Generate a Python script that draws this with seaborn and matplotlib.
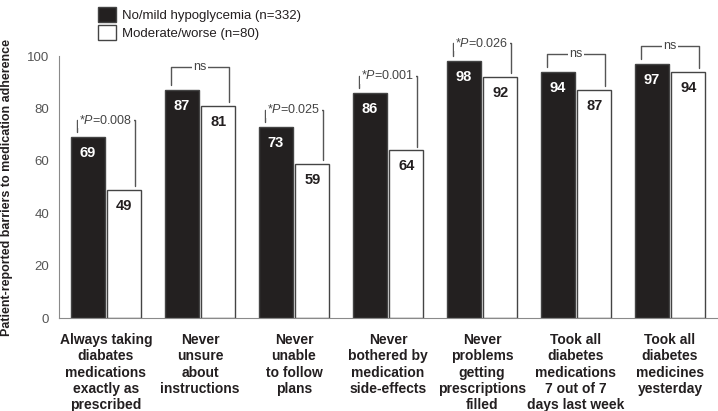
import matplotlib
matplotlib.use("Agg")
import matplotlib.pyplot as plt
import seaborn as sns
import pandas as pd
import numpy as np

# data
categories = [
    "Always taking\ndiabates\nmedications\nexactly as\nprescribed",
    "Never\nunsure\nabout\ninstructions",
    "Never\nunable\nto follow\nplans",
    "Never\nbothered by\nmedication\nside-effects",
    "Never\nproblems\ngetting\nprescriptions\nfilled",
    "Took all\ndiabetes\nmedications\n7 out of 7\ndays last week",
    "Took all\ndiabetes\nmedicines\nyesterday",
]
groups = ["No/mild hypoglycemia (n=332)", "Moderate/worse (n=80)"]
no_mild = [69, 87, 73, 86, 98, 94, 97]
moderate = [49, 81, 59, 64, 92, 87, 94]
p_labels = ["*$\\it{P}$=0.008", "ns", "*$\\it{P}$=0.025", "*$\\it{P}$=0.001",
            "*$\\it{P}$=0.026", "ns", "ns"]
bracket_y = [75.5, 96, 79.5, 92.5, 105, 101, 104]

sns.set_style("white")
plt.rcParams["font.family"] = ["Liberation Sans", "DejaVu Sans"]
plt.rcParams["mathtext.fontset"] = "custom"
plt.rcParams["mathtext.rm"] = "Liberation Sans"
plt.rcParams["mathtext.it"] = "Liberation Sans:italic"

dark = "#231f20"
grey = "#8a8a8a"

df = pd.DataFrame({
    "category": categories * 2,
    "group": [groups[0]] * len(categories) + [groups[1]] * len(categories),
    "value": no_mild + moderate,
})

fig = plt.figure(figsize=(7.18, 4.11), dpi=100)
ax = fig.add_axes([59 / 718, 93 / 411, 658 / 718, 288 / 411])

sns.barplot(data=df, x="category", y="value", hue="group",
            order=categories, hue_order=groups,
            palette={groups[0]: dark, groups[1]: "white"},
            width=0.78, gap=0.08, edgecolor="#444444", linewidth=1,
            errorbar=None, ax=ax, legend=True)

ax.set_xlim(-0.5, len(categories) - 0.5)
ax.set_ylim(0, 110)
ax.set_yticks([0, 20, 40, 60, 80, 100])
ax.set_xlabel("")
ax.set_ylabel("")

# value labels inside the bars
for cont, col in zip(ax.containers, ["white", dark]):
    for bar in cont:
        h = bar.get_height()
        ax.annotate(f"{h:.0f}", (bar.get_x() + bar.get_width() / 2, h),
                    xytext=(0, -16), textcoords="offset pixels",
                    ha="center", va="center", fontsize=10.5,
                    fontweight="bold", color=col)

# significance brackets
for i, (lab, yb) in enumerate(zip(p_labels, bracket_y)):
    xl, xr = i - 0.31, i + 0.31
    ax.plot([xl, xl, xr, xr], [no_mild[i] + 2, yb, yb, moderate[i] + 1.5],
            color="#555555", lw=1, clip_on=False)
    ax.text(i, yb, lab, ha="center", va="center", fontsize=9,
            color="#444444",
            bbox=dict(facecolor="white", edgecolor="none", pad=1.2))

# axes styling
for s in ["top", "right"]:
    ax.spines[s].set_visible(False)
ax.spines["left"].set_bounds(0, 100)
ax.spines["left"].set_color(grey)
ax.spines["bottom"].set_color(grey)
ax.tick_params(axis="y", direction="in", length=9, width=1, color=grey,
               labelsize=9.5, labelcolor="#555555", pad=7)
ax.tick_params(axis="x", which="major", length=0, labelsize=10,
               labelcolor=dark, pad=11)
ax.set_xticks(np.arange(len(categories)) + 0.5, minor=True)
ax.tick_params(axis="x", which="minor", direction="in", length=5,
               width=1, color=grey)
for t in ax.get_xticklabels():
    t.set_fontweight("bold")
    t.set_linespacing(1.2)

fig.text(7 / 718, 1 - 188 / 411,
         "Patient-reported barriers to medication adherence",
         rotation=90, ha="center", va="center", fontsize=9,
         fontweight="bold", color=dark)

handles, labels = ax.get_legend_handles_labels()
ax.get_legend().remove()
fig.legend(handles, labels, loc="upper left",
           bbox_to_anchor=(86 / 718, 1.012), frameon=False, fontsize=9.5,
           handlelength=1.4, handleheight=1.4, handletextpad=0.45,
           labelspacing=0.2, labelcolor=dark)

fig.savefig("out.png", dpi=100)
